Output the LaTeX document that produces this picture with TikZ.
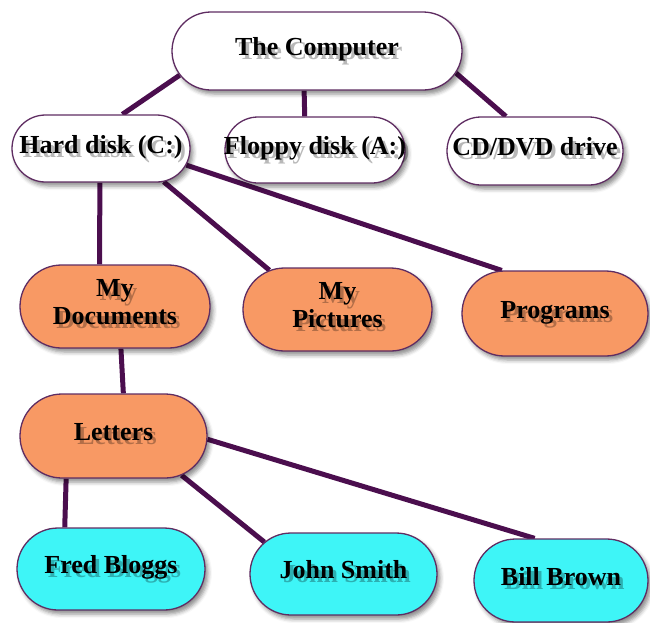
\documentclass[tikz,border=0pt]{standalone}
\usepackage{fontspec}
\setmainfont{Liberation Serif}
\usetikzlibrary{shapes.misc,shadows.blur,backgrounds}
\definecolor{edgecol}{RGB}{75,14,78}
\definecolor{bordercol}{RGB}{95,45,98}
\definecolor{orangefill}{RGB}{248,153,100}
\definecolor{cyanfill}{RGB}{62,245,247}
\newcommand\shtext[1]{\makebox[0pt]{%
  \makebox[0pt]{\hspace{7pt}\raisebox{-4pt}{\begin{pgfscope}\pgfsetfillopacity{0.28}#1\end{pgfscope}}}%
  \makebox[0pt]{#1}}}
\newcommand\twoline[2]{\begin{tabular}{@{}c@{}}#1\\#2\end{tabular}}
\tikzset{
  bub/.style={rounded rectangle, draw=bordercol, line width=1.3pt, inner sep=0pt,
    text height=16pt, text depth=7pt, font=\fontsize{26}{28}\selectfont\bfseries,
    blur shadow={shadow xshift=3pt, shadow yshift=-4pt, shadow blur radius=4pt, shadow opacity=45}},
  wbub/.style={bub, fill=white},
  obub/.style={bub, fill=orangefill},
  cbub/.style={bub, fill=cyanfill},
  link/.style={draw=edgecol, line width=5pt},
}
\begin{document}
\begin{tikzpicture}[x=1pt,y=1pt]
\useasboundingbox (0,0) rectangle (650,-622);
\node[wbub, minimum width=290pt, minimum height=78pt] (comp) at (317,-51) {\shtext{The Computer}};
\node[wbub, minimum width=178pt, minimum height=67pt] (hd) at (101,-148.5) {\shtext{Hard disk (C:)}};
\node[wbub, minimum width=180pt, minimum height=66pt] (fl) at (315,-150) {\shtext{Floppy disk (A:)}};
\node[wbub, minimum width=176pt, minimum height=68pt] (cd) at (535,-151) {\shtext{CD/DVD drive}};
\node[obub, minimum width=190pt, minimum height=83pt] (md) at (115,-306.5) {\shtext{\twoline{My}{Documents}}};
\node[obub, minimum width=189pt, minimum height=83pt] (mp) at (337.5,-309.5) {\shtext{\twoline{My}{Pictures}}};
\node[obub, minimum width=186pt, minimum height=85pt] (pr) at (555,-313.5) {\shtext{Programs}};
\node[obub, minimum width=187pt, minimum height=84pt] (let) at (113.5,-436) {\shtext{Letters}};
\node[cbub, minimum width=188pt, minimum height=82pt] (fred) at (111,-569) {\shtext{Fred Bloggs}};
\node[cbub, minimum width=187pt, minimum height=82pt] (john) at (343.5,-574) {\shtext{John Smith}};
\node[cbub, minimum width=174pt, minimum height=83pt] (bill) at (561,-580.5) {\shtext{Bill Brown}};
\begin{pgfonlayer}{background}
\draw[link] (comp.190) -- (hd.58);
\draw[link] (comp.252) -- (fl.107);
\draw[link] (comp.-9) -- (cd.130);
\draw[link] (hd.-92) -- (md.110);
\draw[link] (hd.-28) -- (mp.150);
\draw[link] (hd.-11) -- (pr.141);
\draw[link] (md.-82) -- (let.77);
\draw[link] (let.-138) -- (fred.138);
\draw[link] (let.-30) -- (john.158);
\draw[link] (let.-2.4) -- (bill.122);
\end{pgfonlayer}
\end{tikzpicture}
\end{document}
